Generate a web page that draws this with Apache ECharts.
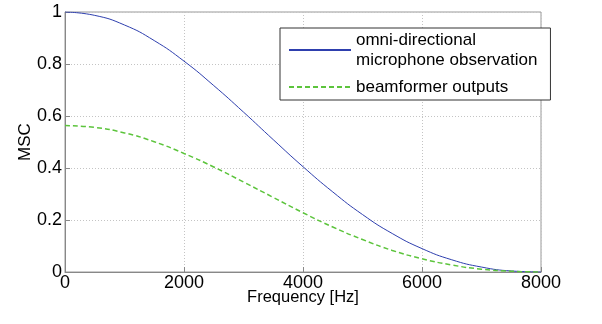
<!DOCTYPE html>
<html>
<head>
<meta charset="utf-8">
<script src="https://cdn.jsdelivr.net/npm/echarts@6/dist/echarts.min.js"></script>
<style>
  html, body { margin: 0; padding: 0; background: #fff; }
  #chart { width: 602px; height: 324px; }
</style>
</head>
<body>
<div id="chart"></div>
<script>
// frequency points [Hz]
const freqs = [0, 500, 1000, 1500, 2000, 2500, 3000, 3500, 4000, 4500, 5000, 5500, 6000, 6500, 7000, 7500, 8000]
// MSC of the omni-directional microphone observation
const mscOmni = [1.0, 0.987, 0.950, 0.890, 0.811, 0.717, 0.615, 0.509, 0.405, 0.308, 0.221, 0.148, 0.090, 0.047, 0.019, 0.004, 0.0]
// MSC of the beamformer outputs
const mscBeam = [0.563, 0.556, 0.535, 0.501, 0.456, 0.404, 0.346, 0.287, 0.228, 0.173, 0.125, 0.083, 0.051, 0.027, 0.011, 0.003, 0.0]
const xTicks = [0, 2000, 4000, 6000, 8000]
const yTicks = [0, 0.2, 0.4, 0.6, 0.8, 1]

const font = 'Liberation Sans, Arial, sans-serif'
const pairs = (ys) => freqs.map((f, i) => [f, ys[i]])

const chart = echarts.init(document.getElementById('chart'), null, { renderer: 'canvas' })
chart.setOption({
  animation: false,
  textStyle: { fontFamily: font, color: '#000' },
  grid: { left: 65, right: 61, top: 12, bottom: 52, show: true, borderColor: '#999', borderWidth: 1 },
  xAxis: {
    type: 'value', min: 0, max: 8000, interval: 2000,
    name: 'Frequency [Hz]', nameLocation: 'middle', nameGap: 17, nameMoveOverlap: false,
    nameTextStyle: { fontSize: 16.5, color: '#000', fontFamily: font },
    axisLine: { show: true, lineStyle: { color: '#888' } },
    axisTick: { show: true, inside: true, length: 5, lineStyle: { color: '#888' } },
    axisLabel: { fontSize: 18, color: '#000', margin: 2, fontFamily: font, formatter: (v) => xTicks.includes(v) ? String(v) : '' },
    splitLine: { show: true, lineStyle: { color: '#c4c4c4', type: [1, 2] } }
  },
  yAxis: {
    type: 'value', min: 0, max: 1, interval: 0.2,
    name: 'MSC', nameLocation: 'middle', nameGap: 31, nameMoveOverlap: false,
    nameTextStyle: { fontSize: 17, color: '#000', fontFamily: font },
    axisLine: { show: true, lineStyle: { color: '#888' } },
    axisTick: { show: true, inside: true, length: 5, lineStyle: { color: '#888' } },
    axisLabel: { fontSize: 18, color: '#000', margin: 3, fontFamily: font,
      formatter: (v) => { const t = yTicks.find((y) => Math.abs(y - v) < 1e-9); return t === undefined ? '' : String(t) } },
    splitLine: { show: true, lineStyle: { color: '#c4c4c4', type: [1, 2] } }
  },
  legend: {
    orient: 'vertical', left: 280, top: 28,
    backgroundColor: '#fff', borderColor: '#333', borderWidth: 1, borderRadius: 0,
    padding: [2, 13, 3, 8], itemGap: 7, itemWidth: 62, itemHeight: 14,
    itemStyle: { opacity: 0 },
    textStyle: { fontSize: 17, color: '#000', fontFamily: font, lineHeight: 20 },
    data: ['omni-directional\nmicrophone observation', 'beamformer outputs']
  },
  series: [
    {
      name: 'omni-directional\nmicrophone observation', type: 'line', data: pairs(mscOmni),
      smooth: true, symbol: 'none', lineStyle: { color: '#2e3fae', width: 1 }, itemStyle: { color: '#2e3fae' }
    },
    {
      name: 'beamformer outputs', type: 'line', data: pairs(mscBeam),
      smooth: true, symbol: 'none', lineStyle: { color: '#5cc43c', width: 1.5, type: [5, 3] }, itemStyle: { color: '#5cc43c' }
    }
  ]
})
</script>
</body>
</html>
